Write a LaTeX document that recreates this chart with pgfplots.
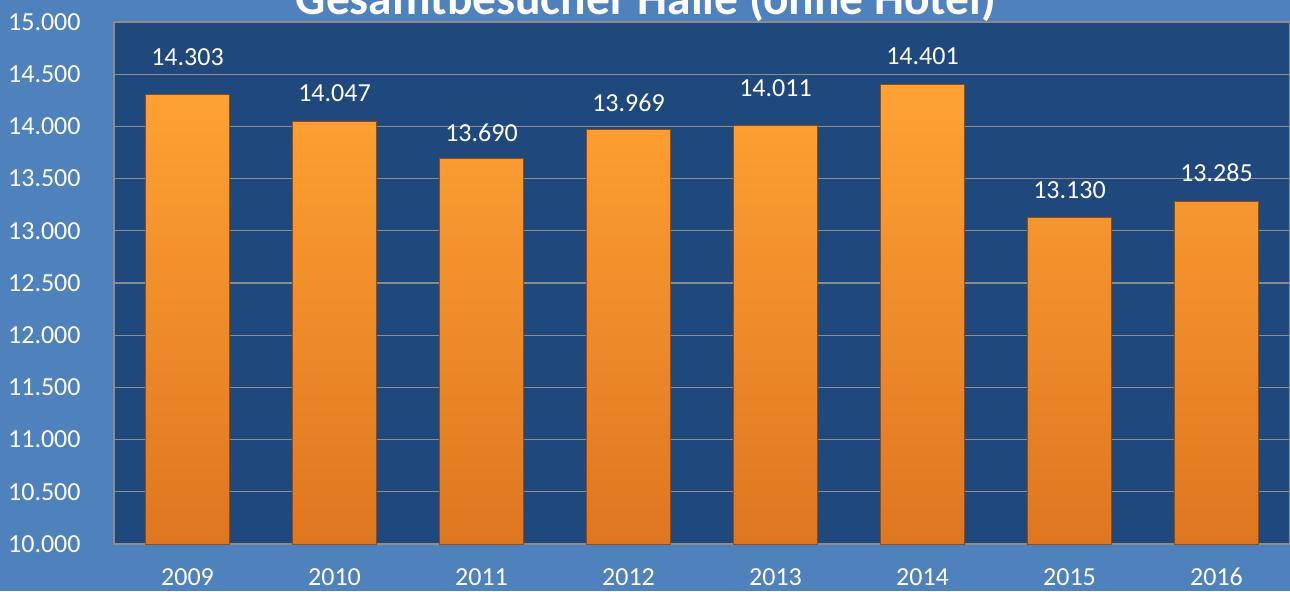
\documentclass[border=0pt]{standalone}
\usepackage{pgfplots}
\pgfplotsset{compat=1.18}
\usepackage{fontspec}
\setmainfont{Carlito}
\definecolor{bgblue}{RGB}{79,129,189}
\definecolor{plotblue}{RGB}{31,73,125}
\definecolor{gridgray}{RGB}{140,140,140}
\definecolor{barTop}{RGB}{255,162,52}
\definecolor{barBot}{RGB}{222,118,32}
\definecolor{barEdge}{RGB}{150,75,15}
\begin{document}
\begin{tikzpicture}
\fill[bgblue] (0,0) rectangle (645pt,295.5pt);
\begin{axis}[
  at={(57pt,23.5pt)}, anchor=south west,
  scale only axis, width=588pt, height=261pt,
  xmin=-0.5, xmax=7.5, ymin=10000, ymax=15000,
  enlargelimits=false,
  ybar, bar width=42pt,
  xtick={0,...,7},
  xticklabels={2009,2010,2011,2012,2013,2014,2015,2016},
  ytick={10000,10500,...,15000},
  scaled y ticks=false,
  /pgf/number format/.cd, assume math mode=true, 1000 sep={.}, fixed, precision=0,
  /pgfplots/.cd,
  major tick length=0pt,
  ticklabel style={font=\fontsize{13}{15}\selectfont, text=white},
  xticklabel style={anchor=center, inner sep=0pt, yshift=-16.5pt},
  yticklabel style={anchor=east, inner sep=0pt, xshift=-16.5pt},
  axis background/.style={fill=plotblue},
  axis line style={draw=gridgray, line width=0.6pt},
  ymajorgrids, grid style={draw=gridgray, line width=0.6pt},
  nodes near coords={\pgfmathprintnumber[assume math mode=true,fixed,precision=0,1000 sep={.}]{\pgfplotspointmeta}},
  visualization depends on={\thisrow{dy}\as\dy},
  nodes near coords style={anchor=center, yshift=\dy pt, font=\fontsize{13}{15}\selectfont, text=white},
]
\addplot[top color=barTop, bottom color=barBot, draw=barEdge, line width=0.4pt] table[x=x,y=y] {
x y dy
0 14303 19
1 14047 14
2 13690 13
3 13969 13.5
4 14011 18.5
5 14401 14
6 13130 13.5
7 13285 14
};
\end{axis}
\node[anchor=base, text=white, font=\fontsize{23.75}{28}\selectfont\bfseries] at (323pt,288.5pt) {Gesamtbesucher Halle (ohne Hotel)};
\pgfresetboundingbox
\useasboundingbox (0,0) rectangle (645pt,295.5pt);
\end{tikzpicture}
\end{document}
